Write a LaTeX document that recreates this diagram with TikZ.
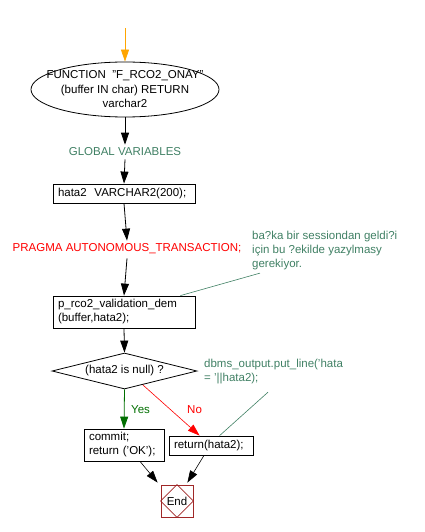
\documentclass[tikz,border=0pt]{standalone}
\usepackage{fontspec}
\setmainfont{Liberation Sans}
\usetikzlibrary{shapes.geometric,arrows.meta,calc}
\definecolor{note}{RGB}{64,128,100}
\definecolor{endred}{RGB}{160,40,40}
\definecolor{yesgreen}{RGB}{0,110,0}
\definecolor{orangeA}{RGB}{255,165,0}
\begin{document}
\begin{tikzpicture}[x=1pt,y=-1pt,
  every node/.style={font=\fontsize{11.5}{14}\selectfont},
  box/.style={draw,rectangle,line width=0.8pt,inner xsep=5pt,inner ysep=0pt,align=left},
  flow/.style={draw,line width=0.8pt,-{Triangle[length=12pt,width=8pt]}},
  notetext/.style={text=note,align=left,inner sep=0pt},
  noteline/.style={draw=note,line width=0.6pt}]
\useasboundingbox (0,0) rectangle (425,532);
% nodes
\node[draw,ellipse,line width=0.8pt,minimum width=188pt,minimum height=55pt,inner sep=0pt] (start) at (125,89.5) {};
\node[align=center,inner sep=0pt,font=\fontsize{11.5}{14.5}\selectfont] (starttext) at (start.center)
  {FUNCTION \ "F\_RCO2\_ONAY"\\(buffer IN char) RETURN\\varchar2};
\coordinate (top) at (125,28);
\node[notetext,anchor=center] (glob) at (125,152) {GLOBAL VARIABLES};
\node[box,minimum width=142pt,minimum height=19pt,text width=132pt] (decl) at (124,193.5) {hata2 \ VARCHAR2(200);};
\node[text=red,inner sep=0pt] (pragma) at (127,249) {PRAGMA AUTONOMOUS\_TRANSACTION;};
\node[notetext,anchor=north west] (c1) at (252,231) {ba?ka bir sessiondan geldi?i\\için bu ?ekilde yazylmasy\\gerekiyor.};
\node[box,minimum width=142pt,minimum height=32pt,text width=132pt] (call) at (124,312) {p\_rco2\_validation\_dem\\(buffer,hata2);};
\node[draw,diamond,line width=0.8pt,minimum width=145pt,minimum height=36pt,inner sep=0pt,aspect=4] (dia) at (124.5,371) {(hata2 is null) ?};
\node[notetext,anchor=north west] (c2) at (204,359) {dbms\_output.put\_line('hata\\= '||hata2);};
\node[box,minimum width=80pt,minimum height=32pt,text width=70pt] (commit) at (124,445) {commit;\\return ('OK');};
\node[box,minimum width=84pt,minimum height=19pt,text width=74pt] (ret) at (211,445.5) {return(hata2);};
\node[draw=endred,line width=0.8pt,minimum width=32pt,minimum height=32pt,inner sep=0pt] (end) at (177,501) {End};
\draw[endred,line width=0.6pt] (end.north) -- (end.east) -- (end.south) -- (end.west) -- cycle;
\node[text=yesgreen,anchor=west,inner sep=0pt] (yes) at (131,410) {Yes};
\node[text=red,anchor=west,inner sep=0pt] (no) at (187,410) {No};
% connectors
\draw[flow,draw=orangeA,-{Triangle[length=12pt,width=8pt,fill=orangeA]}] (top) -- (start.north);
\draw[flow] (start.south) -- ($(glob.north)+(0,-3)$);
\draw[flow] ($(glob.south)+(0,3)$) -- (decl.north);
\draw[flow] (decl.south) -- ($(pragma.north)+(0,-3)$);
\draw[flow] ($(pragma.south)+(0,4)$) -- (call.north);
\draw[flow] (call.south) -- (dia.north);
\draw[flow,draw=yesgreen] (dia.south) -- (commit.north);
\draw[flow,draw=red,line width=0.6pt] ($(dia.south)!0.25!(dia.east)$) -- ($(ret.north west)+(31,0)$);
\draw[flow,line width=0.6pt] ($(commit.south)+(16,0)$) -- ($(end.north west)+(-3,-2)$);
\draw[flow,line width=0.6pt] ($(ret.south)+(-7,0)$) -- ($(end.north east)+(-6,-2)$);
\draw[noteline] ($(c1.south west)+(8,3)$) -- ($(call.north east)+(-15,0)$);
\draw[noteline] ($(c2.south west)+(64,8)$) -- ($(ret.north west)+(51,0)$);
\end{tikzpicture}
\end{document}
